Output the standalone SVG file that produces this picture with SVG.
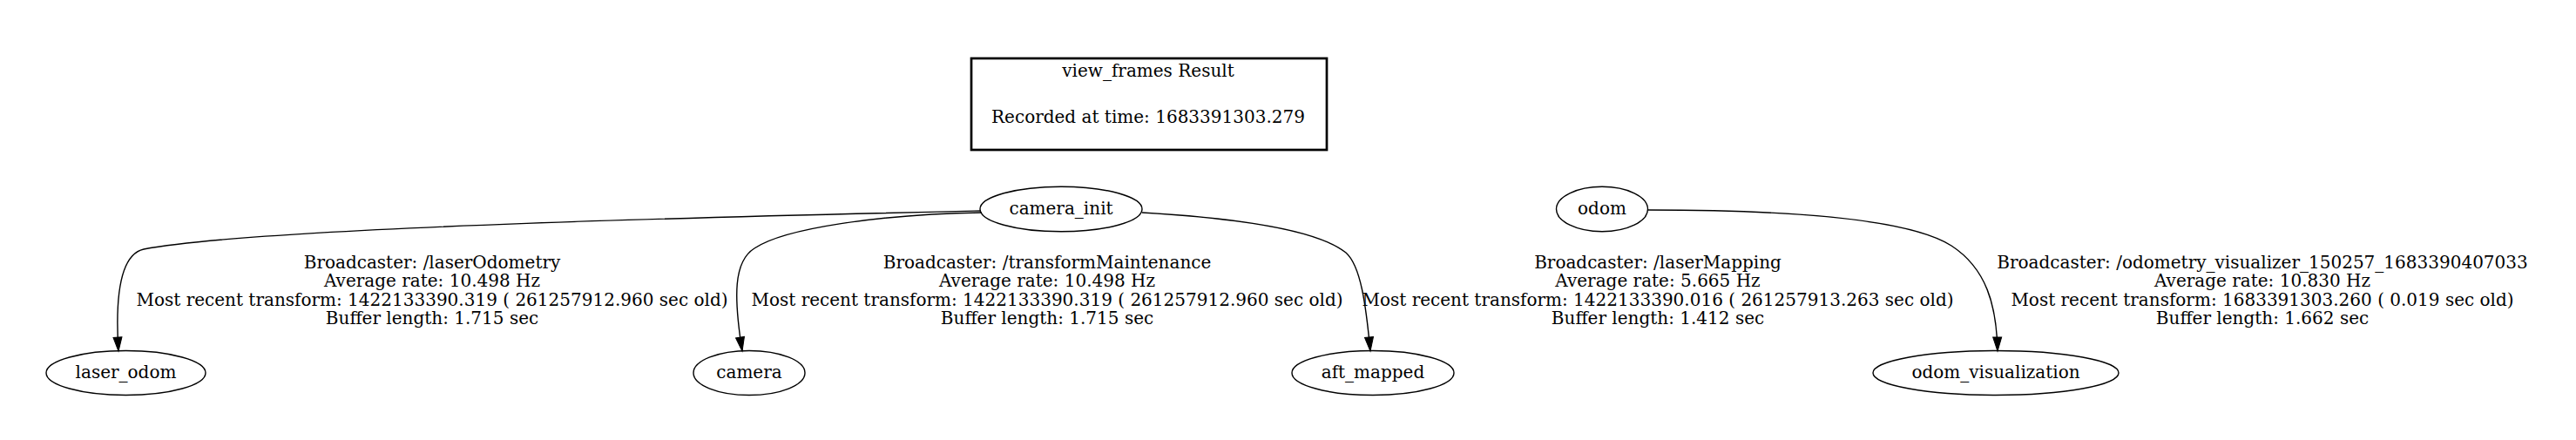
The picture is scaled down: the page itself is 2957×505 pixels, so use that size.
<svg xmlns="http://www.w3.org/2000/svg" width="2957" height="505" viewBox="0 0 2957 505">
<style>
  text { font-family: "DejaVu Serif", "Liberation Serif", serif; font-size: 20px; fill: #000; text-anchor: middle; }
  .node ellipse { fill: none; stroke: #000; stroke-width: 1.4; }
  .edge path { fill: none; stroke: #000; stroke-width: 1.4; }
</style>
<defs>
  <marker id="arrow" markerUnits="userSpaceOnUse" markerWidth="18" markerHeight="12" refX="16" refY="5" orient="auto" overflow="visible">
    <path d="M0,0 L16,5 L0,10 Z" fill="#000" stroke="#000" stroke-width="1"/>
  </marker>
</defs>
<rect width="2957" height="505" fill="#fff"/>

<g id="title">
  <rect x="1115" y="67" width="408" height="105" fill="none" stroke="#000" stroke-width="2.7"/>
  <text x="1318" y="88">view_frames Result</text>
  <text x="1318" y="141">Recorded at time: 1683391303.279</text>
</g>

<g id="edges" class="edge">
  <path d="M1126,242 C900,247 300,260 165,286 C138,292 132,340 136,403" marker-end="url(#arrow)"/>
  <path d="M1127,244 C1010,246 900,262 866,285 C842,300 842,340 852,403" marker-end="url(#arrow)"/>
  <path d="M1311,244 C1380,248 1505,258 1545,290 C1562,305 1568,350 1573,403" marker-end="url(#arrow)"/>
  <path d="M1892,241 C2050,241 2190,250 2240,282 C2280,308 2292,350 2293,403" marker-end="url(#arrow)"/>
  <g id="edge-labels">
    <text x="496" y="308">Broadcaster: /laserOdometry</text>
    <text x="496" y="329.3">Average rate: 10.498 Hz</text>
    <text x="496" y="350.7">Most recent transform: 1422133390.319 ( 261257912.960 sec old)</text>
    <text x="496" y="372">Buffer length: 1.715 sec</text>

    <text x="1202" y="308">Broadcaster: /transformMaintenance</text>
    <text x="1202" y="329.3">Average rate: 10.498 Hz</text>
    <text x="1202" y="350.7">Most recent transform: 1422133390.319 ( 261257912.960 sec old)</text>
    <text x="1202" y="372">Buffer length: 1.715 sec</text>

    <text x="1903" y="308">Broadcaster: /laserMapping</text>
    <text x="1903" y="329.3">Average rate: 5.665 Hz</text>
    <text x="1903" y="350.7">Most recent transform: 1422133390.016 ( 261257913.263 sec old)</text>
    <text x="1903" y="372">Buffer length: 1.412 sec</text>

    <text x="2597" y="308">Broadcaster: /odometry_visualizer_150257_1683390407033</text>
    <text x="2597" y="329.3">Average rate: 10.830 Hz</text>
    <text x="2597" y="350.7">Most recent transform: 1683391303.260 ( 0.019 sec old)</text>
    <text x="2597" y="372">Buffer length: 1.662 sec</text>
  </g>
</g>

<g id="camera_init" class="node">
  <ellipse cx="1218" cy="240" rx="93" ry="25.8"/>
  <text x="1218" y="246">camera_init</text>
</g>
<g id="odom" class="node">
  <ellipse cx="1839" cy="240" rx="52.5" ry="25.8"/>
  <text x="1839" y="246">odom</text>
</g>
<g id="laser_odom" class="node">
  <ellipse cx="144.5" cy="428" rx="91.5" ry="25.5"/>
  <text x="144.5" y="434">laser_odom</text>
</g>
<g id="camera" class="node">
  <ellipse cx="860" cy="428" rx="64" ry="25.5"/>
  <text x="860" y="434">camera</text>
</g>
<g id="aft_mapped" class="node">
  <ellipse cx="1576" cy="428" rx="93" ry="25.5"/>
  <text x="1576" y="434">aft_mapped</text>
</g>
<g id="odom_visualization" class="node">
  <ellipse cx="2291" cy="428" rx="141" ry="25.5"/>
  <text x="2291" y="434">odom_visualization</text>
</g>
</svg>
